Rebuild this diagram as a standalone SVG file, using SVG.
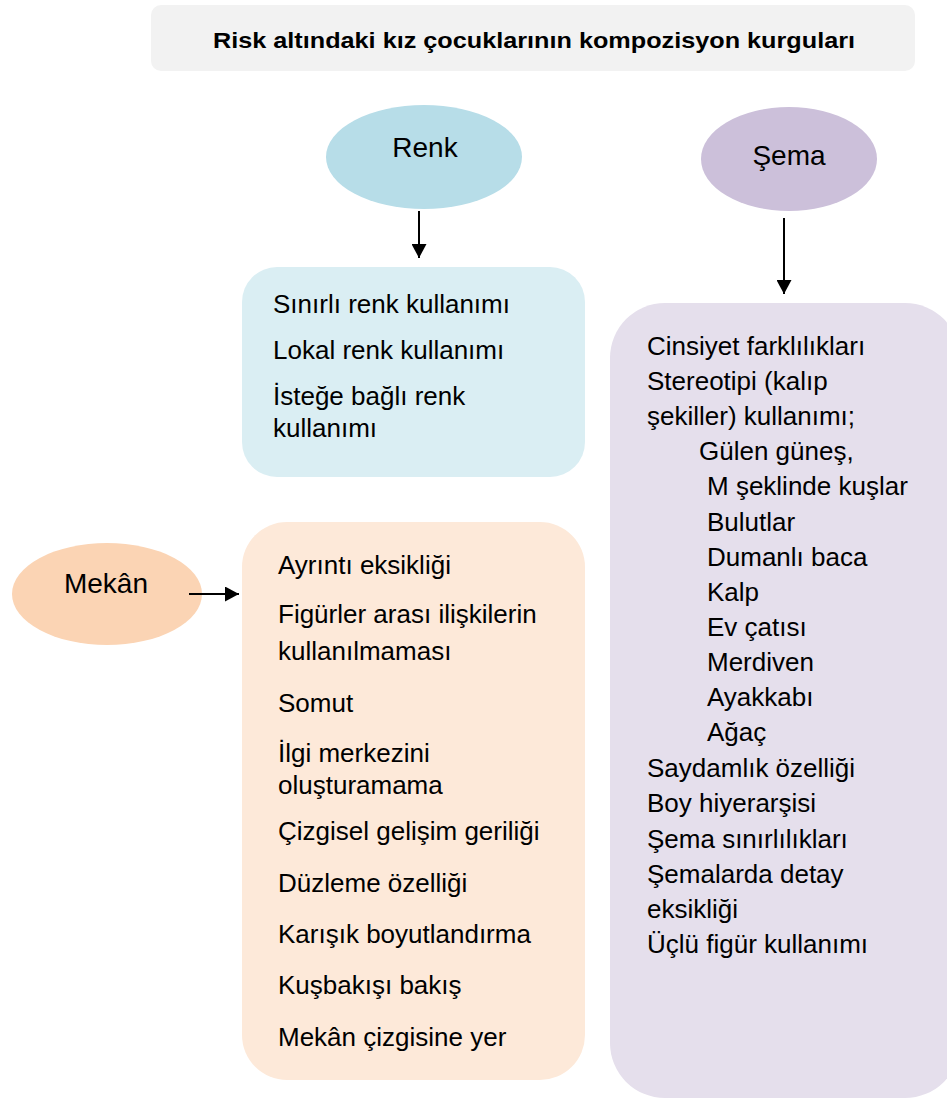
<svg xmlns="http://www.w3.org/2000/svg" width="947" height="1100" viewBox="0 0 947 1100">
<style>
.t{font-family:"Liberation Sans",Arial,sans-serif;font-size:26px;fill:#000}
.h{font-family:"Liberation Sans",Arial,sans-serif;font-size:28px;fill:#000}
.title{font-family:"Liberation Sans",Arial,sans-serif;font-size:22.5px;font-weight:bold;fill:#000}
.conn{stroke:#000;stroke-width:2;fill:none}
</style>
<defs>
<marker id="ah" markerUnits="userSpaceOnUse" markerWidth="14" markerHeight="15" refX="14" refY="7.5" orient="auto">
<path d="M0,0 L14,7.5 L0,15 Z" fill="#000"/>
</marker>
</defs>
<rect width="947" height="1100" fill="#fff"/>
<g id="title">
<rect x="151" y="5" width="764" height="66" rx="10" fill="#f2f2f2"/>
<text class="title" x="534" y="48" text-anchor="middle" textLength="642" lengthAdjust="spacingAndGlyphs">Risk altındaki kız çocuklarının kompozisyon kurguları</text>
</g>
<g id="renk">
<ellipse cx="424" cy="157" rx="98" ry="52" fill="#b7dde8"/>
<text class="h" x="425" y="157" text-anchor="middle">Renk</text>
</g>
<g id="renk-box">
<rect x="242" y="267" width="343" height="210" rx="35" fill="#daeef3"/>
<text class="t" x="273" y="313">Sınırlı renk kullanımı</text>
<text class="t" x="273" y="359">Lokal renk kullanımı</text>
<text class="t" x="273" y="405">İsteğe bağlı renk</text>
<text class="t" x="273" y="437">kullanımı</text>
</g>
<g id="sema">
<ellipse cx="789" cy="159" rx="88" ry="52" fill="#ccc0da"/>
<text class="h" x="789" y="165" text-anchor="middle">Şema</text>
</g>
<g id="sema-box">
<rect x="610" y="303" width="350" height="795" rx="55" fill="#e5dfec"/>
<text class="t" x="647" y="355">Cinsiyet farklılıkları</text>
<text class="t" x="647" y="390">Stereotipi (kalıp</text>
<text class="t" x="647" y="425">şekiller) kullanımı;</text>
<text class="t" x="699" y="460">Gülen güneş,</text>
<text class="t" x="707" y="495">M şeklinde kuşlar</text>
<text class="t" x="707" y="531">Bulutlar</text>
<text class="t" x="707" y="566">Dumanlı baca</text>
<text class="t" x="707" y="601">Kalp</text>
<text class="t" x="707" y="636">Ev çatısı</text>
<text class="t" x="707" y="671">Merdiven</text>
<text class="t" x="707" y="706">Ayakkabı</text>
<text class="t" x="707" y="741">Ağaç</text>
<text class="t" x="647" y="777">Saydamlık özelliği</text>
<text class="t" x="647" y="812">Boy hiyerarşisi</text>
<text class="t" x="647" y="848">Şema sınırlılıkları</text>
<text class="t" x="647" y="883">Şemalarda detay</text>
<text class="t" x="647" y="918">eksikliği</text>
<text class="t" x="647" y="953">Üçlü figür kullanımı</text>
</g>
<g id="mekan">
<ellipse cx="107" cy="594" rx="95" ry="51" fill="#fbd4b4"/>
<text class="h" x="106" y="593" text-anchor="middle">Mekân</text>
</g>
<g id="mekan-box">
<rect x="242" y="522" width="343" height="558" rx="45" fill="#fde9d9"/>
<text class="t" x="278" y="574">Ayrıntı eksikliği</text>
<text class="t" x="278" y="623">Figürler arası ilişkilerin</text>
<text class="t" x="278" y="660">kullanılmaması</text>
<text class="t" x="278" y="712">Somut</text>
<text class="t" x="278" y="762">İlgi merkezini</text>
<text class="t" x="278" y="794">oluşturamama</text>
<text class="t" x="278" y="840">Çizgisel gelişim geriliği</text>
<text class="t" x="278" y="892">Düzleme özelliği</text>
<text class="t" x="278" y="943">Karışık boyutlandırma</text>
<text class="t" x="278" y="994">Kuşbakışı bakış</text>
<text class="t" x="278" y="1046">Mekân çizgisine yer</text>
</g>
<g id="connectors">
<line class="conn" x1="419" y1="211" x2="419" y2="258" marker-end="url(#ah)"/>
<line class="conn" x1="784" y1="218" x2="784" y2="294" marker-end="url(#ah)"/>
<line class="conn" x1="189" y1="594" x2="239" y2="594" marker-end="url(#ah)"/>
</g>
</svg>
